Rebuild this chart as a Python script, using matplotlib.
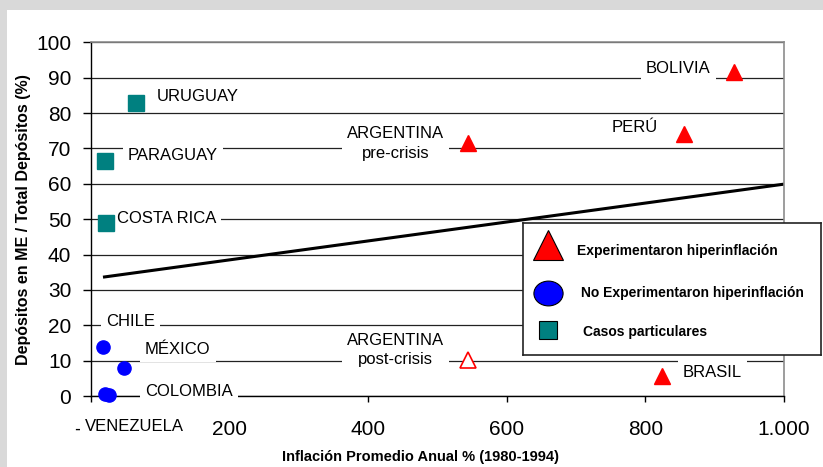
import numpy as np
import matplotlib.pyplot as plt
from matplotlib.patches import Rectangle
from matplotlib.path import Path
from matplotlib.transforms import Affine2D, ScaledTranslation

plt.rcParams['font.family'] = ['Liberation Sans', 'DejaVu Sans']

# países que experimentaron hiperinflación
hyper_names = ['BOLIVIA', 'PERÚ', 'ARGENTINA\npre-crisis', 'BRASIL']
hyper_x = [928, 856, 544, 824]
hyper_y = [91.7, 74.2, 71.4, 5.7]

# Argentina después de la crisis (marcador hueco)
post_names = ['ARGENTINA\npost-crisis']
post_x = [544]
post_y = [10.3]

# no experimentaron hiperinflación
nohyper_names = ['CHILE', 'MÉXICO', 'COLOMBIA', 'VENEZUELA']
nohyper_x = [18, 48, 21, 27]
nohyper_y = [13.9, 7.9, 0.6, 0.4]

# casos particulares
part_names = ['URUGUAY', 'PARAGUAY', 'COSTA RICA']
part_x = [65.6, 21, 22]
part_y = [82.8, 66.4, 48.9]

# recta de tendencia
trend_x = [18, 1000]
trend_y = [33.6, 59.9]

y_ticks = list(range(0, 101, 10))
x_ticks = [0, 200, 400, 600, 800, 1000]
x_tick_labels = ['-', '200', '400', '600', '800', '1.000']

legend_labels = ['Experimentaron hiperinflación',
                 'No Experimentaron hiperinflación',
                 'Casos particulares']

# where each country name sits (data coords, alignment)
label_pos = {
    'URUGUAY': (95.9, 83.4, 'left', 'baseline'),
    'PARAGUAY': (54, 66.7, 'left', 'baseline'),
    'COSTA RICA': (38, 48.9, 'left', 'baseline'),
    'CHILE': (22.3, 19.8, 'left', 'baseline'),
    'MÉXICO': (78.6, 11.9, 'left', 'baseline'),
    'COLOMBIA': (78.6, 0.1, 'left', 'baseline'),
    'VENEZUELA': (-7.9, -9.9, 'left', 'baseline'),
    'BOLIVIA': (801, 91.3, 'left', 'baseline'),
    'PERÚ': (750.8, 74.6, 'left', 'baseline'),
    'BRASIL': (854, 5.4, 'left', 'baseline'),
    'ARGENTINA\npre-crisis': (440, 71.4, 'center', 'center'),
    'ARGENTINA\npost-crisis': (440, 13.0, 'center', 'center'),
}

W, H = 823, 467
fig = plt.figure(figsize=(W / 100, H / 100), dpi=100)
fig.patch.set_facecolor('#d9d9d9')
fig.add_artist(Rectangle((7 / W, 0), 1 - 7 / W, 1 - 10 / H, transform=fig.transFigure,
                         facecolor='white', edgecolor='none', zorder=-1))

ax = fig.add_axes([90.5 / W, 1 - 396 / H, 693.5 / W, 353.7 / H])
ax.set_facecolor('white')
ax.set_xlim(0, 1000)
ax.set_ylim(0, 100)
ax.set_axisbelow(True)
ax.yaxis.grid(True, color='#222222', lw=0.9)

for side in ['top', 'right']:
    ax.spines[side].set_color('#8c8c8c')
    ax.spines[side].set_linewidth(1.2)
for side in ['left', 'bottom']:
    ax.spines[side].set_color('black')
    ax.spines[side].set_linewidth(1.0)

ax.set_yticks(y_ticks)
ax.set_xticks(x_ticks)
ax.set_xticklabels(x_tick_labels)
ax.tick_params(axis='y', length=5.8, width=1, pad=8, labelsize=15)
ax.tick_params(axis='x', length=4.3, width=1, pad=13, labelsize=15)

# the zero label ("-") sits a little to the left of its tick
zero_lab = ax.get_xticklabels()[0]
zero_lab.set_transform(zero_lab.get_transform()
                       + ScaledTranslation(-13 / 100, 0, fig.dpi_scale_trans))

ax.plot(trend_x, trend_y, color='black', lw=2.2, solid_capstyle='butt', zorder=2)

ax.plot(hyper_x, hyper_y, '^', ls='none', color='red', ms=11, clip_on=False, zorder=4)
ax.plot(post_x, post_y, '^', ls='none', mfc='white', mec='red', mew=1.2, ms=11,
        clip_on=False, zorder=4)
ax.plot(nohyper_x, nohyper_y, 'o', ls='none', color='#0000ff', ms=9.5, clip_on=False, zorder=4)
ax.plot(part_x, part_y, 's', ls='none', color='#008080', ms=11.5, clip_on=False, zorder=4)

for name in hyper_names + post_names + nohyper_names + part_names:
    x, y, ha, va = label_pos[name]
    pad = 0.1 if name == 'PERÚ' else 0.3
    ax.text(x, y, name, ha=ha, va=va, multialignment='center', fontsize=12,
            linespacing=1.35,
            bbox=dict(boxstyle='square,pad=%s' % pad, fc='white', ec='none'),
            zorder=3, clip_on=False)

ax.set_ylabel('Depósitos en ME / Total Depósitos (%)', fontsize=11.5,
              fontweight='bold', va='center')
ax.yaxis.set_label_coords((24 - 90.5) / 693.5, 0.5)
ax.set_xlabel('Inflación Promedio Anual % (1980-1994)', fontsize=10.5,
              fontweight='bold', va='center')
ax.xaxis.set_label_coords((420 - 90.5) / 693.5, (396 - 457) / 353.7)

# legend box drawn by hand
lax = fig.add_axes([523 / W, 1 - 355 / H, 298 / W, 132 / H])
lax.set_xlim(0, 1)
lax.set_ylim(0, 1)
lax.set_xticks([])
lax.set_yticks([])
for s in lax.spines.values():
    s.set_color('#222222')
    s.set_linewidth(1.2)

ellipse = Path.unit_circle().transformed(Affine2D().scale(1, 0.85))
lax.plot([0.084], [0.830], '^', color='red', mec='black', mew=0.8, ms=21.5)
lax.plot([0.084], [0.470], marker=ellipse, color='#0000ff', mec='black', mew=0.8, ms=21)
lax.plot([0.084], [0.186], 's', color='#008080', mec='black', mew=0.8, ms=12.5)
for label, ty, tx in zip(legend_labels, [0.788, 0.473, 0.178], [0.181, 0.195, 0.201]):
    lax.text(tx, ty, label, fontsize=10, fontweight='bold', va='center', ha='left')

fig.savefig('out.png', dpi=100, facecolor=fig.get_facecolor())
